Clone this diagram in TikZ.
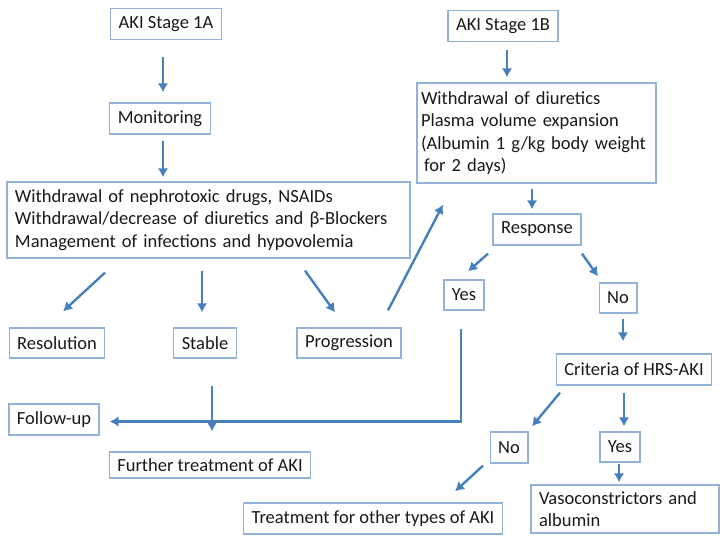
\documentclass[tikz,border=0pt]{standalone}
\usepackage{fontspec}
\setmainfont{Carlito}
\usepackage{tikz}
\usetikzlibrary{positioning, calc, arrows.meta}

\definecolor{boxline}{RGB}{146,178,218}
\definecolor{arrowblue}{RGB}{72,128,190}
\definecolor{inktext}{RGB}{25,25,25}

\begin{document}
\begin{tikzpicture}[x=1pt,y=-1pt,
	box/.style={rectangle, draw=boxline, line width=1.3pt, align=left, text=inktext,
		font=\fontsize{18.5}{22.5}\selectfont, inner xsep=8pt, inner ysep=3pt,
		minimum height=31pt},
	arr/.style={draw=arrowblue, line width=2.4pt, -{Latex[length=9pt,width=10.5pt]}}
	]
	\useasboundingbox (0,0) rectangle (721,543);

	% left branch
	\node[box] (s1a) at (166,24) {AKI Stage 1A};
	\node[box] (mon) at (160,118.5) {Monitoring};
	\node[box, text width=387pt, minimum height=76pt] (wnd) at (208.5,220)
	{Withdrawal of nephrotoxic drugs, NSAIDs\\
	 Withdrawal/decrease of diuretics and β-Blockers\\
	 Management of infections and hypovolemia};
	\node[box, minimum height=30pt] (res) at (57,343) {Resolution};
	\node[box, minimum height=30pt] (stb) at (205,343) {Stable};
	\node[box, minimum height=30pt] (prg) at (349,343) {Progression};
	\node[box] (fup) at (54,419.5) {Follow-up};
	\node[box, minimum height=26pt] (fta) at (210,465) {Further treatment of AKI};

	% right branch
	\node[box] (s1b) at (503,26) {AKI Stage 1B};
	\node[box, inner xsep=4pt, text width=231pt, minimum height=100pt] (wdi) at (536.5,133)
	{Withdrawal of diuretics\\
	 Plasma volume expansion\\
	 (Albumin 1 g/kg body weight\\
	 \hspace*{3pt}for 2 days)};
	\node[box] (resp) at (537,229.5) {Response};
	\node[box, minimum height=30pt] (yes1) at (464,295) {Yes};
	\node[box, minimum height=30pt] (no1) at (618,298) {No};
	\node[box] (hrs) at (634,369.5) {Criteria of HRS-AKI};
	\node[box] (no2) at (509,447.5) {No};
	\node[box, minimum height=30pt] (yes2) at (620,447) {Yes};
	\node[box, text width=172pt, minimum height=48pt] (vaso) at (625,509)
	{Vasoconstrictors and\\ albumin};
	\node[box] (trt) at (373,518.5) {Treatment for other types of AKI};

	\draw[arr] ([shift={(-3,17)}]s1a.south) -- ([shift={(3,-10)}]mon.north);
	\draw[arr] ([shift={(3,6)}]mon.south) -- ([shift={(-45.5,-4)}]wnd.north);
	\draw[arr] ([shift={(-103.5,14)}]wnd.south) -- ([shift={(6,-16)}]res.north);
	\draw[arr] ([shift={(-6.5,12)}]wnd.south) -- ([shift={(-3,-15)}]stb.north);
	\draw[arr] ([shift={(96.5,12)}]wnd.south) -- ([shift={(-14,-15)}]prg.north);
	\draw[arr] ([shift={(39,-17)}]prg.north) -- ([shift={(-93.5,21)}]wdi.south);
	\draw[arr] ([shift={(7,27)}]stb.south) -- ([shift={(2,-20)}]fta.north);
	\draw[arr] ([shift={(-3,18)}]yes1.south) |- ([shift={(10,2)}]fup.east);

	\draw[arr] ([shift={(4,8)}]s1b.south) -- ([shift={(-29.5,-5)}]wdi.north);
	\draw[arr] ([shift={(-4.5,5)}]wdi.south) -- ([shift={(-5,-4)}]resp.north);
	\draw[arr] ([shift={(-49,8)}]resp.south) -- ([shift={(4,-8)}]yes1.north);
	\draw[arr] ([shift={(45,8)}]resp.south) -- ([shift={(-20,-6)}]no1.north);
	\draw[arr] ([shift={(5,5)}]no1.south) -- ([shift={(-11,-12)}]hrs.north);
	\draw[arr] ([shift={(-74,7)}]hrs.south) -- ([shift={(23,-5)}]no2.north);
	\draw[arr] ([shift={(-10,7)}]hrs.south) -- ([shift={(4,-5)}]yes2.north);
	\draw[arr] ([shift={(-1,1)}]yes2.south) -- ([shift={(-6,-2)}]vaso.north);
	\draw[arr] ([shift={(-26,2)}]no2.south) -- ([shift={(82,-11)}]trt.north);
\end{tikzpicture}
\end{document}
